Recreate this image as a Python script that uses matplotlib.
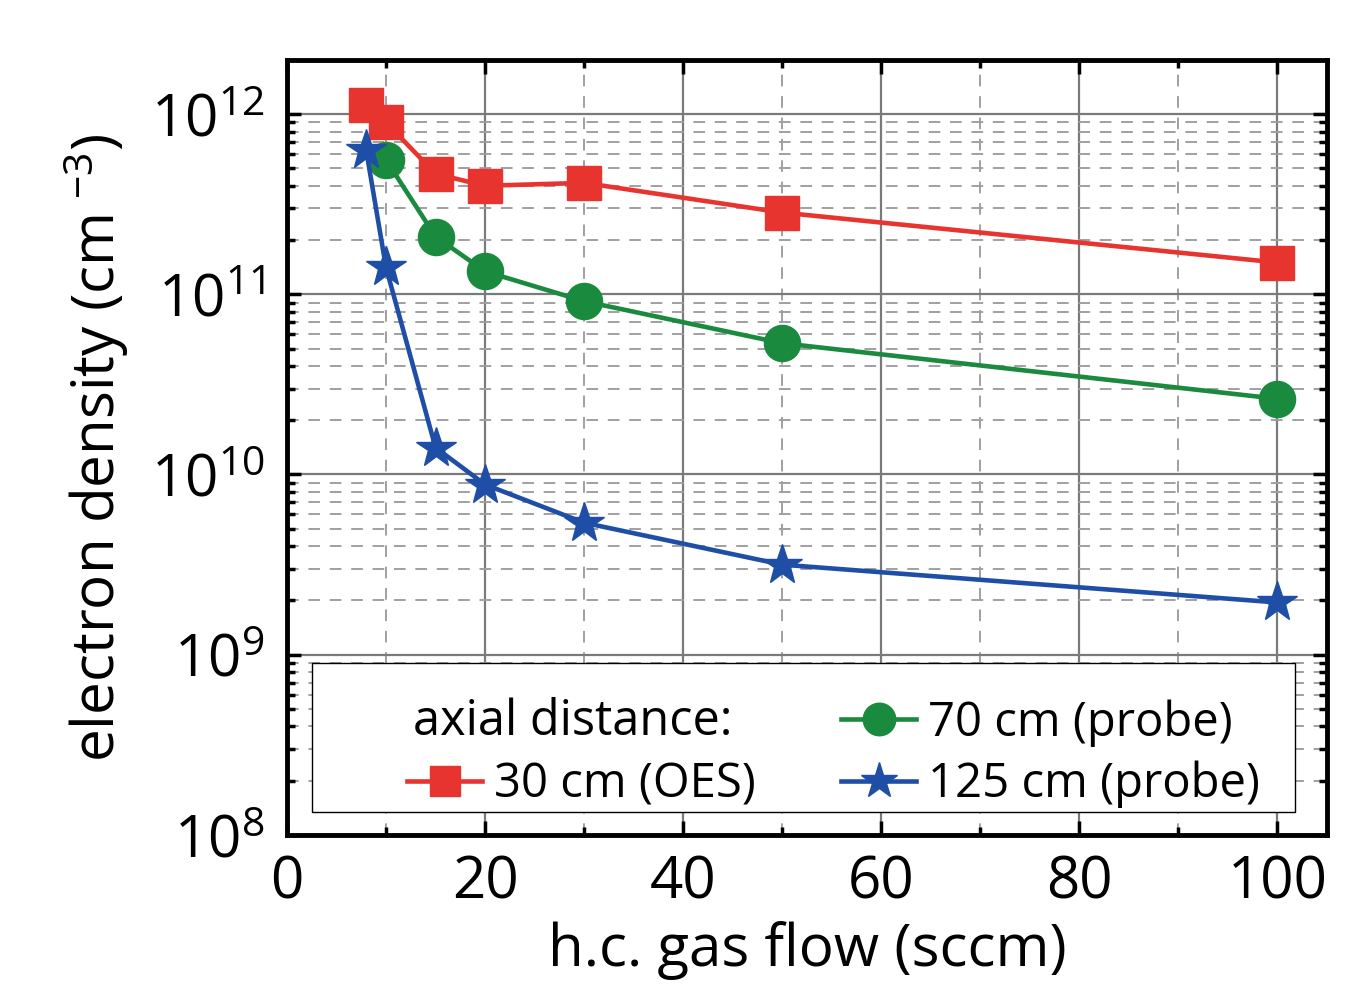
import numpy as np
import matplotlib
matplotlib.use("Agg")
import matplotlib.pyplot as plt
from matplotlib.lines import Line2D
from matplotlib.patches import Rectangle
from matplotlib.ticker import LogLocator, MultipleLocator, NullFormatter

plt.rcParams['font.family'] = ['Open Sans', 'DejaVu Sans']
plt.rcParams['mathtext.fontset'] = 'custom'
plt.rcParams['mathtext.rm'] = 'Open Sans'
plt.rcParams['mathtext.it'] = 'Open Sans'
plt.rcParams['mathtext.sf'] = 'Open Sans'

# data
x_oes = [8, 10, 15, 20, 30, 50, 100]
ne_30 = [1.12e12, 9.0e11, 4.66e11, 4.0e11, 4.15e11, 2.84e11, 1.5e11]
x_probe70 = [10, 15, 20, 30, 50, 100]
ne_70 = [5.57e11, 2.09e11, 1.34e11, 9.15e10, 5.35e10, 2.63e10]
x_probe125 = [8, 10, 15, 20, 30, 50, 100]
ne_125 = [6.3e11, 1.41e11, 1.41e10, 8.8e9, 5.4e9, 3.16e9, 1.95e9]

labels = ["30 cm (OES)", "70 cm (probe)", "125 cm (probe)"]
red, green, blue = "#e8342f", "#1a8a3e", "#1f4ea6"

fig = plt.figure(figsize=(13.69, 9.88), dpi=100)
ax = fig.add_axes([0.2096, 0.1549, 0.7597, 0.7844])

l1, = ax.plot(x_oes, ne_30, color=red, lw=3.3, marker="s", ms=24, zorder=3)
l2, = ax.plot(x_probe70, ne_70, color=green, lw=3.3, marker="o", ms=26, zorder=3)
l3, = ax.plot(x_probe125, ne_125, color=blue, lw=3.3, marker="*", ms=30, zorder=3)

ax.set_yscale("log")
ax.set_xlim(0, 105)
ax.set_ylim(1e8, 10**12.3)

ax.xaxis.set_major_locator(MultipleLocator(20))
ax.xaxis.set_minor_locator(MultipleLocator(10))
ax.yaxis.set_major_locator(LogLocator(base=10, numticks=10))
ax.yaxis.set_minor_locator(LogLocator(base=10, subs=np.arange(2, 10), numticks=20))
ax.yaxis.set_minor_formatter(NullFormatter())

ax.grid(True, which="major", color="#7a7a7a", lw=1.6, ls="-", zorder=1)
ax.grid(True, which="minor", color="#a0a0a0", lw=1.4, ls=(0, (6, 5)), zorder=1)

ax.tick_params(which="both", direction="in", top=True, right=True, labelsize=42, width=2.5)
ax.tick_params(axis="x", which="major", length=10, pad=14)
ax.tick_params(axis="y", which="major", length=10, pad=16)
ax.tick_params(which="minor", length=6)
for s in ax.spines.values():
    s.set_linewidth(3.5)

ax.set_xlabel("h.c. gas flow (sccm)", fontsize=42, labelpad=6)
ax.set_ylabel(r"electron density (cm$^{\ \mathsf{-3}}$)", fontsize=42, labelpad=14)

# legend box
ax.add_patch(Rectangle((0.024, 0.0297), 0.945, 0.192, transform=ax.transAxes,
                       facecolor="white", edgecolor="black", lw=1, zorder=4))
blank = Line2D([], [], color="none")
leg = ax.legend([blank, l1, l2, l3], ["", labels[0], labels[1], labels[2]],
                ncol=2, loc="center", bbox_to_anchor=(0.5255, 0.105),
                frameon=False, fontsize=34, handlelength=1.6, handletextpad=0.25,
                columnspacing=1.8, labelspacing=0.3, borderpad=0, markerscale=0.9)
leg.set_zorder(5)
ax.text(0.121, 0.146, "axial distance:", transform=ax.transAxes, fontsize=35,
        va="center", ha="left", zorder=6)

fig.savefig("out.png", dpi=100)
